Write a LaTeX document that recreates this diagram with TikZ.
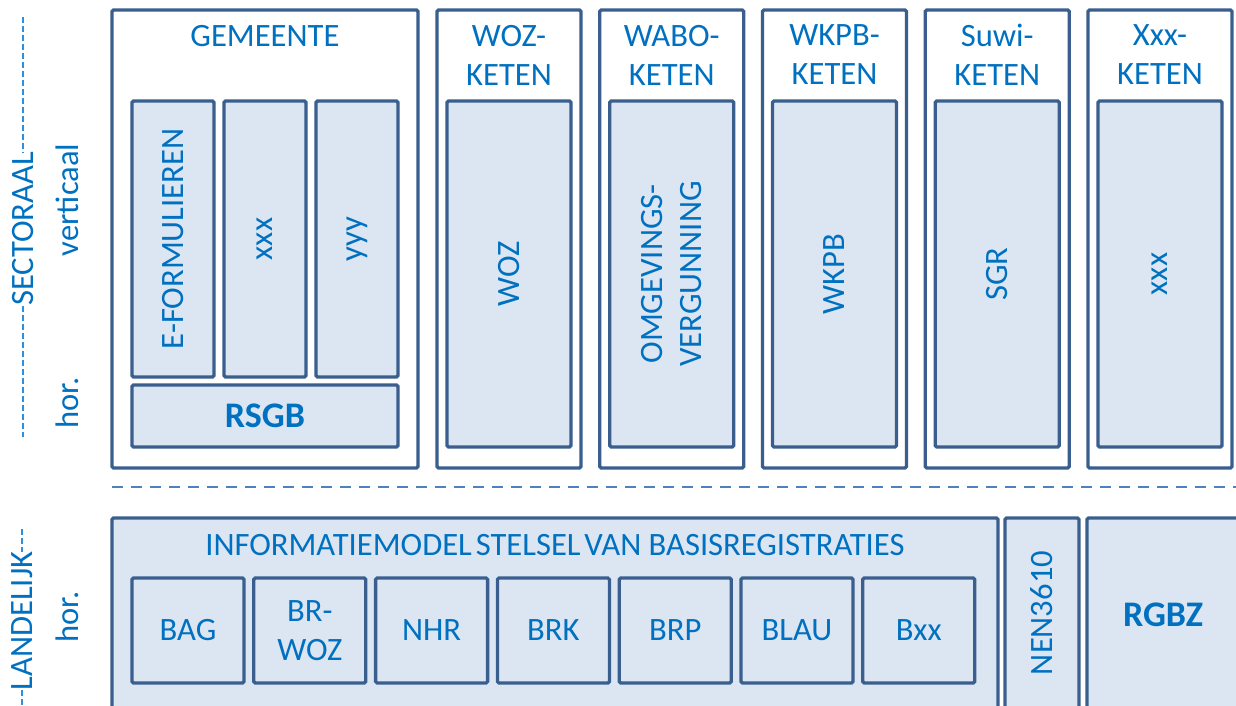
\documentclass[tikz,border=0pt]{standalone}
\usepackage{fontspec}
\setmainfont{Carlito}
\definecolor{txtblue}{HTML}{0070C0}
\definecolor{edge}{HTML}{3A5F8E}
\definecolor{boxfill}{HTML}{DCE6F2}
\definecolor{sepblue}{HTML}{4F81BD}
\definecolor{leftdash}{HTML}{2E90DC}
\begin{document}
\begin{tikzpicture}[x=1pt,y=-1pt,
  every node/.style={font=\fontsize{32.6}{39}\selectfont, text=txtblue, inner sep=0pt, outer sep=0pt},
  boldtext/.style={font=\fontsize{36}{39}\selectfont\bfseries},
  framebox/.style={draw=edge, line width=3.3pt, fill=white, rounded corners=1.5pt, rectangle},
  innerbox/.style={draw=edge, line width=3.3pt, fill=boxfill, rounded corners=1.5pt, rectangle, align=center},
  rottext/.style={rotate=90, align=center},
  titletext/.style={align=center},
  sep/.style={draw=sepblue, line width=2pt, dash pattern=on 11pt off 8pt},
  sidedash/.style={draw=leftdash, line width=1.6pt, dash pattern=on 6pt off 3pt}
]
\useasboundingbox (0,0) rectangle (1236,706);
\clip (0,0) rectangle (1236,706);

% ---------- GEMEENTE ----------
\node[framebox, minimum width=306pt, minimum height=458pt] (gem) at (265,239) {};
\node[titletext] (gemt) at (265,36) {GEMEENTE};
\node[innerbox, minimum width=82pt, minimum height=276pt] (eform) at (173,239) {};
\node[rottext] (eformt) at (eform.center) {E-FORMULIEREN};
\node[innerbox, minimum width=82pt, minimum height=276pt] (gxxx) at (265,239) {};
\node[rottext] (gxxxt) at (gxxx.center) {xxx};
\node[innerbox, minimum width=82pt, minimum height=276pt] (gyyy) at (357,239) {};
\node[rottext] (gyyyt) at (gyyy.center) {yyy};
\node[innerbox, minimum width=266pt, minimum height=62pt] (rsgb) at (265,416) {};
\node[boldtext] (rsgbt) at (rsgb.center) {RSGB};

% ---------- KETENS ----------
\foreach \i/\ti/\tii/\lab in {0/WOZ-/KETEN/WOZ,
                               1/WABO-/KETEN/{OMGEVINGS-\\VERGUNNING},
                               2/WKPB-/KETEN/WKPB,
                               3/Suwi-/KETEN/SGR,
                               4/Xxx-/KETEN/xxx}{
  \pgfmathsetmacro{\cx}{509+\i*162.75}
  \node[framebox, minimum width=144pt, minimum height=458pt] (chain\i) at (\cx,239) {};
  \node[titletext] (chaint\i) at (\cx,55) {\ti\\\tii};
  \node[innerbox, minimum width=124pt, minimum height=346pt] (chainin\i) at (\cx,274) {};
  \node[rottext] (chaininl\i) at (chainin\i.center) {\lab};
}

% ---------- separator ----------
\coordinate (sepA) at (112,487);
\coordinate (sepB) at (1240,487);
\draw[sep] (sepA) -- (sepB);

% ---------- LANDELIJK ----------
\node[innerbox, minimum width=886pt, minimum height=220pt] (imsvb) at (555,628) {};
\node[titletext] (imsvbt) at (555,545) {INFORMATIEMODEL\hspace{0.12em}STELSEL\hspace{0.12em}VAN BASISREGISTRATIES};
\foreach \i/\lab in {0/BAG,1/{BR-\\WOZ},2/NHR,3/BRK,4/BRP,5/BLAU,6/Bxx}{
  \pgfmathsetmacro{\cx}{188+\i*121.8}
  \node[innerbox, minimum width=112pt, minimum height=105pt] (reg\i) at (\cx,630.5) {\lab};
}
\node[innerbox, minimum width=74pt, minimum height=220pt] (nen) at (1042,628) {};
\node[rottext] (nent) at (1042,613) {NEN3610};
\node[innerbox, minimum width=170pt, minimum height=220pt] (rgbz) at (1172,628) {};
\node[boldtext] (rgbzt) at (1163,615) {RGBZ};

% ---------- left labels ----------
\node[rotate=90] (sect) at (23,229) {SECTORAAL};
\coordinate (sdA) at (23,17);
\coordinate (sdB) at (23,437);
\draw[sidedash] (sdA) -- (sect.east);
\draw[sidedash] (sect.west) -- (sdB);
\node[rotate=90] (vert) at (67,200) {verticaal};
\node[rotate=90] (hor1) at (67,403) {hor.};

\node[rotate=90] (land) at (22,621) {LANDELIJK};
\coordinate (ldA) at (22,529);
\coordinate (ldB) at (22,708);
\draw[sidedash] (ldA) -- (land.east);
\draw[sidedash] (land.west) -- (ldB);
\node[rotate=90] (hor2) at (67,617) {hor.};
\end{tikzpicture}
\end{document}
